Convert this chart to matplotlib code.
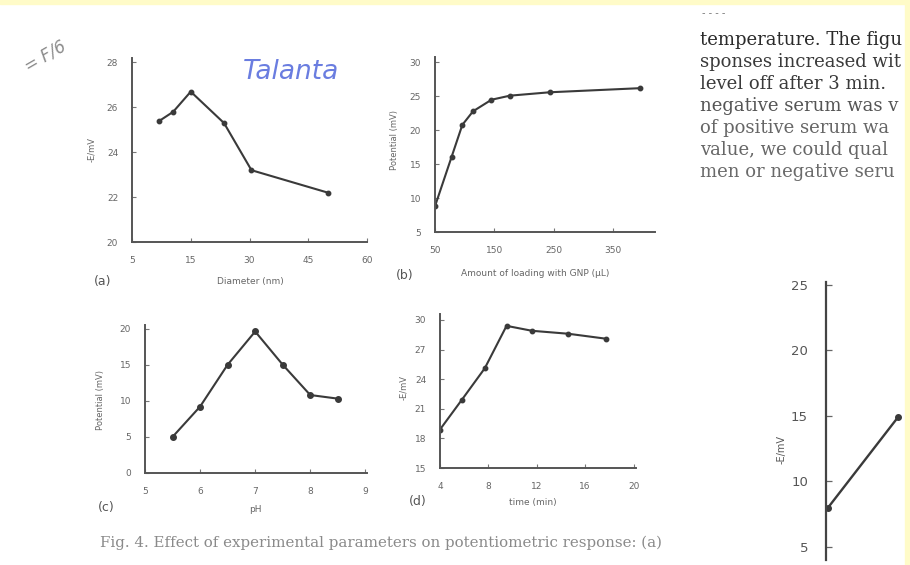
import matplotlib
matplotlib.use("Agg")
import matplotlib.pyplot as plt
from matplotlib.patches import Rectangle

W, H = 910, 565

# (a) diameter
a_x = [7, 10.5, 15, 23.5, 30.5, 50]
a_y = [25.4, 25.8, 26.7, 25.3, 23.2, 22.2]
a_ticks = [0, 15, 30, 45, 60]
a_ticklabels = ["5", "15", "30", "45", "60"]
a_yticks = [20, 22, 24, 26, 28]

# (b) loading amount
b_x = [50, 78, 96, 114, 145, 176, 243, 394]
b_y = [8.8, 16.1, 20.8, 22.8, 24.5, 25.1, 25.6, 26.2]
b_ticks = [50, 150, 250, 350]
b_yticks = [5, 10, 15, 20, 25, 30]

# (c) pH
c_x = [5.5, 6.0, 6.5, 7.0, 7.5, 8.0, 8.5]
c_y = [5.0, 9.2, 15.0, 19.6, 15.0, 10.8, 10.3]
c_ticks = [5, 6, 7, 8, 9]
c_yticks = [0, 5, 10, 15, 20]

# (d) time
d_x = [4, 5.8, 7.7, 9.5, 11.6, 14.6, 17.7]
d_y = [18.9, 21.9, 25.1, 29.4, 28.9, 28.6, 28.1]
d_ticks = [4, 8, 12, 16, 20]
d_yticks = [15, 18, 21, 24, 27, 30]

# (e) cut-off panel at right edge
e_x = [0, 5]
e_y = [8.0, 14.9]
e_yticks = [5, 10, 15, 20, 25]

text_lines = ["temperature. The figu", "sponses increased wit", "level off after 3 min.",
              "negative serum was v", "of positive serum wa", "value, we could qual",
              "men or negative seru"]

INK = "#3a3a3a"
TICK = "#666666"


def box(x0, y0, x1, y1):
    return [x0 / W, 1 - y1 / H, (x1 - x0) / W, (y1 - y0) / H]


def panel(fig, rect, xs, ys, xlim, ylim, xt, yt, xtl=None, ms=3.2):
    ax = fig.add_axes(box(*rect))
    ax.plot(xs, ys, color=INK, lw=1.5, marker="o", ms=ms, mfc=INK, mec=INK)
    ax.set_xlim(*xlim)
    ax.set_ylim(*ylim)
    ax.set_xticks(xt)
    ax.set_yticks(yt)
    if xtl is not None:
        ax.set_xticklabels(xtl)
    for s in ["top", "right"]:
        ax.spines[s].set_visible(False)
    for s in ["left", "bottom"]:
        ax.spines[s].set_color("#555555")
        ax.spines[s].set_linewidth(1.4)
    ax.tick_params(direction="in", length=3, width=0.8, color="#777777",
                   labelsize=6.5, labelcolor=TICK, pad=10)
    ax.patch.set_alpha(0)
    return ax


fig = plt.figure(figsize=(W / 100, H / 100), dpi=100)
fig.patch.set_facecolor("white")

# scan border
fig.patches.append(Rectangle((0, 1 - 4 / H), 1, 4 / H, transform=fig.transFigure,
                             color="#fffbc8", zorder=0))

# (a)
ax = panel(fig, (132, 58, 367, 242), a_x, a_y, (0, 60), (20, 28.2), a_ticks, a_yticks, a_ticklabels)
fig.text(92 / W, 1 - 150 / H, "-E/mV", rotation=90, fontsize=6, color=TICK, ha="center", va="center")
fig.text(250 / W, 1 - 281 / H, "Diameter (nm)", fontsize=6.5, color=TICK, ha="center", va="center")
fig.text(103 / W, 1 - 282 / H, "(a)", fontsize=9, color="#555555", ha="center", va="center")

# (b)
ax = panel(fig, (435, 57, 655, 232), b_x, b_y, (50, 420), (5, 30.8), b_ticks, b_yticks)
fig.text(395 / W, 1 - 140 / H, "Potential (mV)", rotation=90, fontsize=6, color=TICK, ha="center", va="center")
fig.text(535 / W, 1 - 273 / H, "Amount of loading with GNP (\u03bcL)", fontsize=6.5, color=TICK,
         ha="center", va="center")
fig.text(405 / W, 1 - 275 / H, "(b)", fontsize=9, color="#555555", ha="center", va="center")

# (c)
ax = panel(fig, (145, 325, 367, 473), c_x, c_y, (5, 9.03), (0, 20.5), c_ticks, c_yticks, ms=4)
fig.text(100 / W, 1 - 400 / H, "Potential (mV)", rotation=90, fontsize=6, color=TICK, ha="center", va="center")
fig.text(255 / W, 1 - 510 / H, "pH", fontsize=6.5, color=TICK, ha="center", va="center")
fig.text(106 / W, 1 - 508 / H, "(c)", fontsize=9, color="#555555", ha="center", va="center")

# (d)
ax = panel(fig, (440, 314, 636, 468), d_x, d_y, (4, 20.2), (15, 30.6), d_ticks, d_yticks)
fig.text(404 / W, 1 - 387 / H, "-E/mV", rotation=90, fontsize=6, color=TICK, ha="center", va="center")
fig.text(533 / W, 1 - 502 / H, "time (min)", fontsize=6.5, color=TICK, ha="center", va="center")
fig.text(418 / W, 1 - 502 / H, "(d)", fontsize=9, color="#555555", ha="center", va="center")

# (e) cut off at the page edge
ax = fig.add_axes(box(826, 282, 910, 560))
ax.plot(e_x, e_y, color=INK, lw=1.7, marker="o", ms=4, mfc=INK, mec=INK, clip_on=False)
ax.set_xlim(-0.15, 5.85)
ax.set_ylim(4, 25.2)
ax.set_yticks(e_yticks)
ax.set_xticks([])
for s in ["top", "right", "bottom"]:
    ax.spines[s].set_visible(False)
ax.spines["left"].set_color("#444444")
ax.spines["left"].set_linewidth(1.6)
ax.tick_params(direction="in", length=4, width=0.9, color="#666666",
               labelsize=9.5, labelcolor="#555555", pad=13)
ax.patch.set_alpha(0)
fig.text(782 / W, 1 - 450 / H, "-E/mV", rotation=90, fontsize=7, color="#555555", ha="center", va="center")

# page text on the right
text_colors = ["#2a2a2a", "#3a3a3a", "#3a3a3a", "#555555", "#666666", "#666666", "#6a6a6a"]
for i, line in enumerate(text_lines):
    fig.text(700 / W, 1 - (40 + 22 * i) / H, line, family="DejaVu Serif", fontsize=13,
             color=text_colors[i], ha="left", va="center")
fig.text(702 / W, 1 - 13 / H, "- - - -", fontsize=7, color="#777777", ha="left", va="center")

# right page edge
fig.patches.append(Rectangle((905 / W, 0), 5 / W, 1, transform=fig.transFigure,
                             color="#fffbc8", zorder=5))

# caption
fig.text(100 / W, 1 - 543 / H,
         "Fig. 4. Effect of experimental parameters on potentiometric response: (a)",
         family="DejaVu Serif", fontsize=10.8, color="#8a8a8a", ha="left", va="center")

# handwriting
fig.text(291 / W, 1 - 72 / H, "Talanta", fontsize=19, style="italic", color="#6a7de0",
         ha="center", va="center")
fig.text(45 / W, 1 - 56 / H, "= F/6", fontsize=12, style="italic", color="#8a8a8a",
         rotation=30, ha="center", va="center")

fig.savefig("out.png", dpi=100)
